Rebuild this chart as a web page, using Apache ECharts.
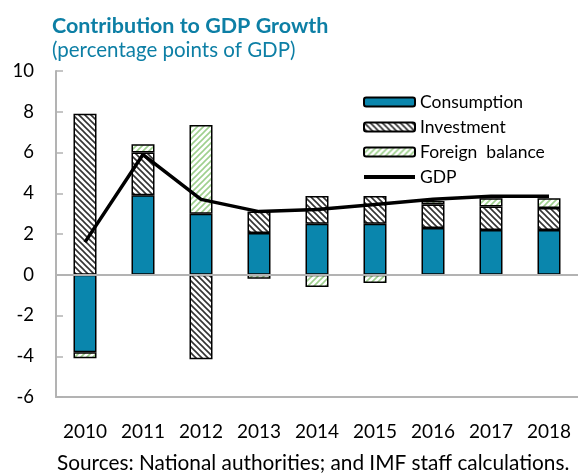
<!DOCTYPE html>
<html>
<head>
<meta charset="utf-8">
<script src="https://cdn.jsdelivr.net/npm/echarts@6/dist/echarts.min.js"></script>
<style>
  html, body { margin: 0; padding: 0; background: #fff; }
  #chart { width: 578px; height: 473px; }
</style>
</head>
<body>
<div id="chart"></div>
<script>
// Contribution to GDP growth, percentage points
const years = ['2010', '2011', '2012', '2013', '2014', '2015', '2016', '2017', '2018'];
const consumption = [-3.8, 3.9, 3.0, 2.05, 2.5, 2.5, 2.3, 2.2, 2.2];
const investment = [7.9, 2.1, -4.15, 1.05, 1.37, 1.37, 1.15, 1.15, 1.07];
const foreignBalance = [-0.3, 0.4, 4.35, -0.2, -0.6, -0.4, 0.17, 0.41, 0.49];
const gdp = [1.6, 5.9, 3.7, 3.1, 3.2, 3.45, 3.7, 3.85, 3.85];
const yTicks = [-6, -4, -2, 0, 2, 4, 6, 8, 10];

const FONT = 'Lato, "Open Sans", sans-serif';
const BLUE = '#0a86ad';
const TITLE_BLUE = '#0d7fa5';
const AXIS_GREY = '#b3b3b3';

// Diagonal hatch tiles used as fill patterns
function hatch(stroke, back, dir, width) {
  const s = 6;
  const c = document.createElement('canvas');
  c.width = s; c.height = s;
  const g = c.getContext('2d');
  g.fillStyle = back;
  g.fillRect(0, 0, s, s);
  g.strokeStyle = stroke;
  g.lineWidth = width;
  g.beginPath();
  if (dir === 'down') {
    // "\" lines
    g.moveTo(-s, 0); g.lineTo(s, 2 * s);
    g.moveTo(0, 0); g.lineTo(s, s);
    g.moveTo(0, -s); g.lineTo(2 * s, s);
  } else {
    // "/" lines
    g.moveTo(0, s); g.lineTo(s, 0);
    g.moveTo(-s, s); g.lineTo(s, -s);
    g.moveTo(0, 2 * s); g.lineTo(2 * s, 0);
  }
  g.stroke();
  return { image: c, repeat: 'repeat' };
}

const investPattern = hatch('#333', '#fff', 'down', 1.6);
const foreignPattern = hatch('#9fd08e', '#fff', 'up', 1.6);

const barBase = {
  type: 'bar',
  stack: 'contrib',
  xAxisIndex: 0,
  barWidth: 23,
  emphasis: { disabled: true }
};

const chart = echarts.init(document.getElementById('chart'), null, { renderer: 'canvas' });

chart.setOption({
  animation: false,
  backgroundColor: '#fff',
  title: [
    {
      text: 'Contribution to GDP Growth',
      left: 47, top: 10,
      textStyle: { fontFamily: FONT, fontWeight: 'bold', fontSize: 21.5, color: TITLE_BLUE }
    },
    {
      text: '(percentage points of GDP)',
      left: 47, top: 35,
      textStyle: { fontFamily: FONT, fontWeight: 'normal', fontSize: 20.5, color: TITLE_BLUE }
    },
    {
      text: 'Sources: National authorities; and IMF staff calculations.',
      left: 52, top: 448,
      textStyle: { fontFamily: FONT, fontWeight: 'normal', fontSize: 20.8, color: '#000' }
    }
  ],
  legend: {
    orient: 'vertical',
    left: 357, top: 88,
    itemWidth: 51, itemHeight: 9,
    itemGap: 7,
    textStyle: { fontFamily: FONT, fontSize: 17.5, color: '#000' },
    data: [
      'Consumption',
      'Investment',
      'Foreign  balance',
      { name: 'GDP', itemStyle: { opacity: 0 }, lineStyle: { width: 4, color: '#000' } }
    ]
  },
  grid: { left: 56, top: 71, width: 526, height: 326 },
  xAxis: [
    {
      type: 'category',
      data: years,
      z: 4,
      axisLine: { onZero: true, lineStyle: { color: AXIS_GREY, width: 2 } },
      axisTick: { show: false },
      axisLabel: { show: false }
    },
    {
      type: 'category',
      data: years,
      position: 'bottom',
      axisLine: { onZero: false, lineStyle: { color: AXIS_GREY, width: 2 } },
      axisTick: { show: false },
      axisLabel: { fontFamily: FONT, fontSize: 19, color: '#000', margin: 25 }
    }
  ],
  yAxis: {
    type: 'value',
    min: yTicks[0], max: yTicks[yTicks.length - 1], interval: 2,
    axisLine: { show: true, lineStyle: { color: AXIS_GREY, width: 2 } },
    axisTick: { show: true, inside: true, length: 7, lineStyle: { color: AXIS_GREY, width: 1.5 } },
    splitLine: { show: false },
    axisLabel: { fontFamily: FONT, fontSize: 18.5, color: '#000', margin: 22 }
  },
  series: [
    Object.assign({}, barBase, {
      name: 'Consumption',
      data: consumption,
      itemStyle: { color: BLUE, borderColor: '#000', borderWidth: 1.5 }
    }),
    Object.assign({}, barBase, {
      name: 'Investment',
      data: investment,
      itemStyle: { color: investPattern, borderColor: '#000', borderWidth: 1.5 }
    }),
    Object.assign({}, barBase, {
      name: 'Foreign  balance',
      data: foreignBalance,
      itemStyle: { color: foreignPattern, borderColor: '#000', borderWidth: 1.5 }
    }),
    {
      name: 'GDP',
      type: 'line',
      xAxisIndex: 0,
      data: gdp,
      symbol: 'none',
      showSymbol: false,
      lineStyle: { color: '#000', width: 3.5 },
      itemStyle: { color: '#000' },
      emphasis: { disabled: true },
      z: 5
    }
  ]
});
</script>
</body>
</html>
